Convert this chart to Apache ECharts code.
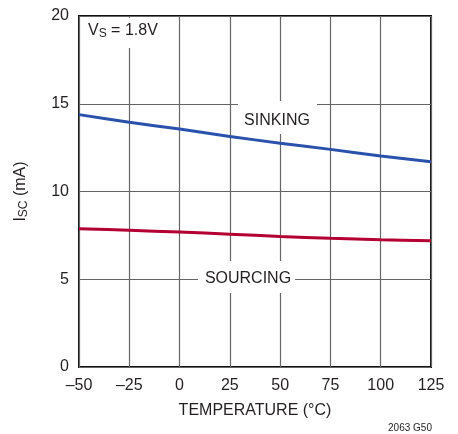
<!DOCTYPE html>
<html><head><meta charset="utf-8">
<script src="https://cdn.jsdelivr.net/npm/echarts@6/dist/echarts.min.js"></script>
<style>html,body{margin:0;padding:0;background:#fff}#c{width:458px;height:434px}</style>
</head><body><div id="c"></div>
<script>
const temps = [-50, -25, 0, 25, 50, 75, 100, 125];
const sinking = [14.38, 13.94, 13.56, 13.14, 12.75, 12.40, 12.02, 11.70];
const sourcing = [7.88, 7.79, 7.69, 7.57, 7.44, 7.33, 7.25, 7.19];
const xTickLabels = ['–50', '–25', '0', '25', '50', '75', '100', '125'];
const yTickLabels = ['0', '5', '10', '15', '20'];
const FONT = '"Liberation Sans Narrow", "Liberation Sans", Arial, sans-serif';
const TXT = '#231f20';

const chart = echarts.init(document.getElementById('c'), null, {renderer: 'canvas'});
chart.setOption({
  animation: false,
  grid: {left: 79, right: 27, top: 16, bottom: 67, show: true, borderColor: '#111', borderWidth: 2, backgroundColor: 'transparent'},
  xAxis: {
    type: 'value', min: -50, max: 125, interval: 25,
    axisLine: {show: false}, axisTick: {show: false},
    splitLine: {show: true, lineStyle: {color: '#666', width: 1.2}},
    axisLabel: {margin: 11, fontFamily: FONT, fontSize: 16, color: TXT,
      formatter: v => xTickLabels[temps.indexOf(v)] ?? ''},
    name: 'TEMPERATURE (°C)', nameLocation: 'middle', nameGap: 36,
    nameTextStyle: {fontFamily: FONT, fontSize: 16, color: TXT}
  },
  yAxis: {
    type: 'value', min: 0, max: 20, interval: 5,
    axisLine: {show: false}, axisTick: {show: false},
    splitLine: {show: true, lineStyle: {color: '#666', width: 1.2}},
    axisLabel: {margin: 10, fontFamily: FONT, fontSize: 16, color: TXT,
      formatter: v => yTickLabels[v / 5] ?? ''},
    name: '{n|I}{s|SC}{n| (mA)}', nameLocation: 'middle', nameGap: 49, nameRotate: 90,
    nameTextStyle: {fontFamily: FONT, fontSize: 16, color: TXT,
      rich: {n: {fontFamily: FONT, fontSize: 16, color: TXT},
             s: {fontFamily: FONT, fontSize: 12, color: TXT, verticalAlign: 'bottom', padding: [6, 0, 0, 0]}}}
  },
  series: [
    {type: 'line', data: temps.map((t, i) => [t, sinking[i]]), smooth: 0.3, symbol: 'none',
     lineStyle: {color: '#2a52ad', width: 3}, z: 3},
    {type: 'line', data: temps.map((t, i) => [t, sourcing[i]]), smooth: 0.3, symbol: 'none',
     lineStyle: {color: '#b40032', width: 3}, z: 3}
  ],
  graphic: [
    {type: 'rect', shape: {x: 81, y: 18, width: 86, height: 30}, style: {fill: '#fff'}, z: 10},
    {type: 'text', left: 88, top: 23, z: 11,
     style: {text: '{n|V}{s|S}{n| = 1.8V}', fontFamily: FONT, fill: TXT,
       rich: {n: {fontFamily: FONT, fontSize: 16, fill: TXT},
              s: {fontFamily: FONT, fontSize: 12, fill: TXT, verticalAlign: 'bottom', padding: [6, 0, 0, 0]}}}},
    {type: 'rect', shape: {x: 238, y: 101, width: 79, height: 33}, style: {fill: '#fff'}, z: 10},
    {type: 'text', x: 277, y: 121, z: 11,
     style: {text: 'SINKING', fontFamily: FONT, fontSize: 16, fill: TXT, align: 'center', verticalAlign: 'middle'}},
    {type: 'rect', shape: {x: 198, y: 261, width: 97, height: 32}, style: {fill: '#fff'}, z: 10},
    {type: 'text', x: 248, y: 279, z: 11,
     style: {text: 'SOURCING', fontFamily: FONT, fontSize: 16, fill: TXT, align: 'center', verticalAlign: 'middle'}},
    {type: 'text', x: 410, y: 428, z: 11,
     style: {text: '2063 G50', fontFamily: FONT, fontSize: 10, fill: TXT, align: 'center', verticalAlign: 'middle'}}
  ]
});
</script></body></html>
